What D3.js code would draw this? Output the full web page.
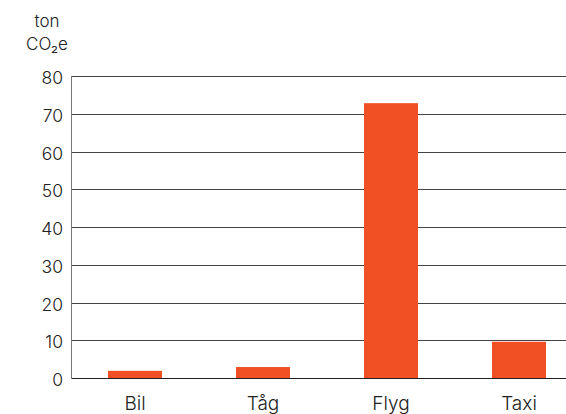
<!DOCTYPE html>
<html lang="sv">
<head>
  <meta charset="utf-8">
  <title>ton CO2e</title>
  <script src="https://d3js.org/d3.v7.min.js"></script>
  <style>
    body { margin: 0; background: #fff; }
    text { font-family: Inter, "Noto Sans", sans-serif; font-weight: 300; fill: #222; }
  </style>
</head>
<body>
  <div id="chart"></div>
  <script>
    // data
    var categories = ["Bil", "Tåg", "Flyg", "Taxi"];
    var values = [1.9, 2.9, 72.8, 9.6];
    var yTicks = [0, 10, 20, 30, 40, 50, 60, 70, 80];
    var unitLines = ["ton", "CO₂e"];

    var W = 566, H = 414;
    var margin = { top: 76, right: 0, bottom: 36, left: 71 };

    var svg = d3.select("#chart")
      .append("svg")
      .attr("width", W)
      .attr("height", H);

    // x: band centres every 128px, bars 54 wide
    var x = d3.scaleBand()
      .domain(categories)
      .range([margin.left, margin.left + 512])
      .paddingInner(0.578)
      .paddingOuter(0.289);

    var y = d3.scaleLinear()
      .domain([0, 80])
      .range([H - margin.bottom, margin.top]);

    // gridlines
    svg.append("g")
      .selectAll("line")
      .data(yTicks)
      .enter().append("line")
      .attr("x1", margin.left)
      .attr("x2", W - margin.right)
      .attr("y1", function (d) { return Math.round(y(d)) + 0.5; })
      .attr("y2", function (d) { return Math.round(y(d)) + 0.5; })
      .attr("stroke", function (d) { return d === 0 ? "#222" : "#444"; })
      .attr("stroke-width", 1);

    // left axis line
    svg.append("line")
      .attr("x1", margin.left + 0.5)
      .attr("x2", margin.left + 0.5)
      .attr("y1", Math.round(y(80)))
      .attr("y2", Math.round(y(0)) + 1)
      .attr("stroke", "#777");

    // y tick labels
    svg.append("g")
      .selectAll("text")
      .data(yTicks)
      .enter().append("text")
      .attr("x", margin.left - 8)
      .attr("y", function (d) { return y(d) + 2; })
      .attr("dy", "0.35em")
      .attr("text-anchor", "end")
      .style("font-size", "17.5px")
      .text(function (d) { return d; });

    // bars
    svg.append("g")
      .selectAll("rect")
      .data(values)
      .enter().append("rect")
      .attr("x", function (d, i) { return x(categories[i]); })
      .attr("y", function (d) { return y(d); })
      .attr("width", x.bandwidth())
      .attr("height", function (d) { return y(0) - y(d); })
      .attr("fill", "#f05023");

    // x labels
    svg.append("g")
      .selectAll("text")
      .data(categories)
      .enter().append("text")
      .attr("x", function (d) { return x(d) + x.bandwidth() / 2; })
      .attr("y", 410)
      .attr("text-anchor", "middle")
      .style("font-size", "19px")
      .text(function (d) { return d; });

    // unit label
    svg.append("g")
      .selectAll("text")
      .data(unitLines)
      .enter().append("text")
      .attr("x", 47)
      .attr("y", function (d, i) { return 27 + i * 23; })
      .attr("text-anchor", "middle")
      .style("font-size", "17px")
      .text(function (d) { return d; });
  </script>
</body>
</html>
